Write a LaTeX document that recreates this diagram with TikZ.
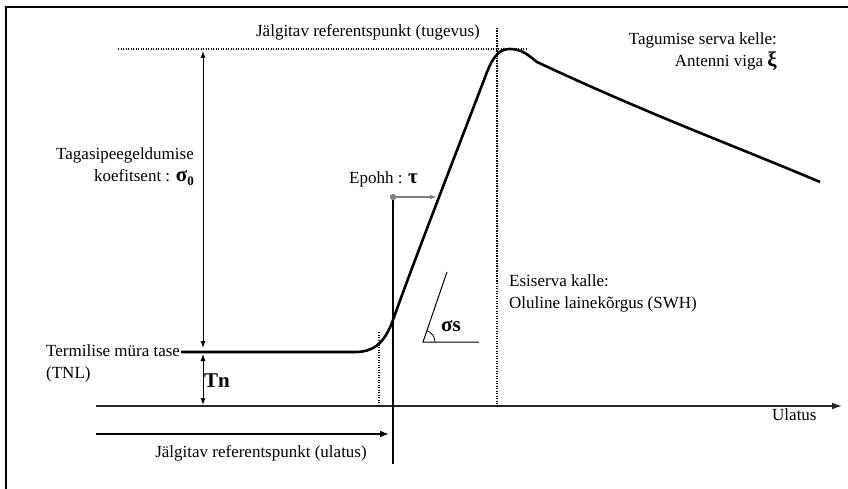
\documentclass[tikz,border=0pt]{standalone}
\usepackage{fontspec}
\setmainfont{Liberation Serif}
\usetikzlibrary{arrows.meta}
\begin{document}
\begin{tikzpicture}[x=1pt,y=-1pt,
  lbl/.style={font=\fontsize{17}{22}\selectfont, inner sep=0pt},
  big/.style={font=\fontsize{21}{22}\selectfont\bfseries, inner sep=0pt},
  dotline/.style={line width=1.3pt, dash pattern=on 1.2pt off 1.3pt},
  curve/.style={line width=2.6pt, line join=round},
  dimarrow/.style={line width=0.9pt, {Latex[length=7pt,width=5pt]}-{Latex[length=7pt,width=5pt]}},
  frame/.style={line width=2.4pt}
]
\useasboundingbox (0,0) rectangle (848,489);
% frame
\coordinate (fl) at (6,489);
\coordinate (fc) at (6,7);
\coordinate (fr) at (848,7);
\draw[frame] (fl) -- (fc) -- (fr);

% axis
\coordinate (ax0) at (96,406);
\coordinate (ax1) at (842,406);
\draw[line width=1.6pt, draw=black!85, -{Latex[length=10pt,width=7pt]}] (ax0) -- (ax1);
\node[lbl, anchor=base west] (ulatus) at (772,420) {Ulatus};

% dotted lines
\coordinate (dh0) at (118,49);
\coordinate (dh1) at (526,49);
\draw[dotline] (dh0) -- (dh1);
\coordinate (dv0) at (497,28);
\coordinate (dv1) at (497,406);
\draw[dotline] (dv0) -- (dv1);
\coordinate (ds0) at (379,332);
\coordinate (ds1) at (379,406);
\draw[dotline] (ds0) -- (ds1);

% waveform
\coordinate (w0) at (181,352);
\coordinate (w1) at (355,352);
\coordinate (w2) at (393,320);
\coordinate (w3) at (487,72);
\coordinate (w4) at (510,49);
\coordinate (w5) at (537,62);
\coordinate (w6) at (820,182);
\draw[curve] (w0) -- (w1) .. controls (372,352) and (384,345) .. (w2)
  .. controls (415,258) and (465,130) .. (w3)
  .. controls (495,52) and (502,49) .. (w4)
  .. controls (522,49) and (528,55) .. (w5)
  .. controls (650,115) and (740,148) .. (w6);

% epoch line
\coordinate (ep0) at (393,197);
\coordinate (ep1) at (393,464);
\draw[line width=1.6pt] (ep0) -- (ep1);
\coordinate (ept) at (437,197);
\draw[line width=1.3pt, draw=black!50, -{Latex[length=7pt,width=5pt]}] (ep0) -- (ept);
\fill[black!50] (ep0) circle (3.2);
\node[lbl, anchor=base west] (epohh) at (349,184) {Epohh : \textbf{\fontsize{21}{22}\selectfont τ}};

% sigma0 arrow
\coordinate (s0a) at (203,51);
\coordinate (s0b) at (203,348);
\draw[dimarrow] (s0a) -- (s0b);
\node[lbl, anchor=base east, align=right] (sig0) at (194,182) {Tagasipeegeldumise\\koefitsent : \textbf{\fontsize{21}{22}\selectfont σ}\raisebox{-4pt}{\textbf{\fontsize{13}{13}\selectfont 0}}};

% Tn arrow
\coordinate (tna) at (203,354);
\coordinate (tnb) at (203,405);
\draw[dimarrow] (tna) -- (tnb);
\node[big, anchor=base west] (tn) at (204,387) {Tn};
\node[lbl, anchor=base west, align=left] (tnl) at (46,378) {Termilise müra tase\\(TNL)};

% bottom arrow
\coordinate (ba0) at (96,434);
\coordinate (ba1) at (389,434);
\draw[line width=2.4pt, -{Latex[length=9pt,width=7pt]}] (ba0) -- (ba1);
\node[lbl, anchor=base] (refu) at (261,457) {Jälgitav referentspunkt (ulatus)};

% top label
\node[lbl, anchor=base] (reft) at (368,37) {Jälgitav referentspunkt (tugevus)};

% slope angle
\coordinate (sv) at (423,342);
\coordinate (sh) at (479,342);
\coordinate (ss) at (447,272);
\draw[line width=1pt] (ss) -- (sv) -- (sh);
\draw[line width=0.8pt] ([xshift=12pt]sv) arc[start angle=0, end angle=-71, radius=12];
\node[big, anchor=base west] (sigs) at (441,331) {σs};

% right labels
\node[lbl, anchor=base east, align=right] (tag) at (777,67) {Tagumise serva kelle:\\Antenni viga \textbf{\fontsize{21}{22}\selectfont ξ}};
\node[lbl, anchor=base west, align=left] (esi) at (509,308) {Esiserva kalle:\\Oluline lainekõrgus (SWH)};
\end{tikzpicture}
\end{document}
